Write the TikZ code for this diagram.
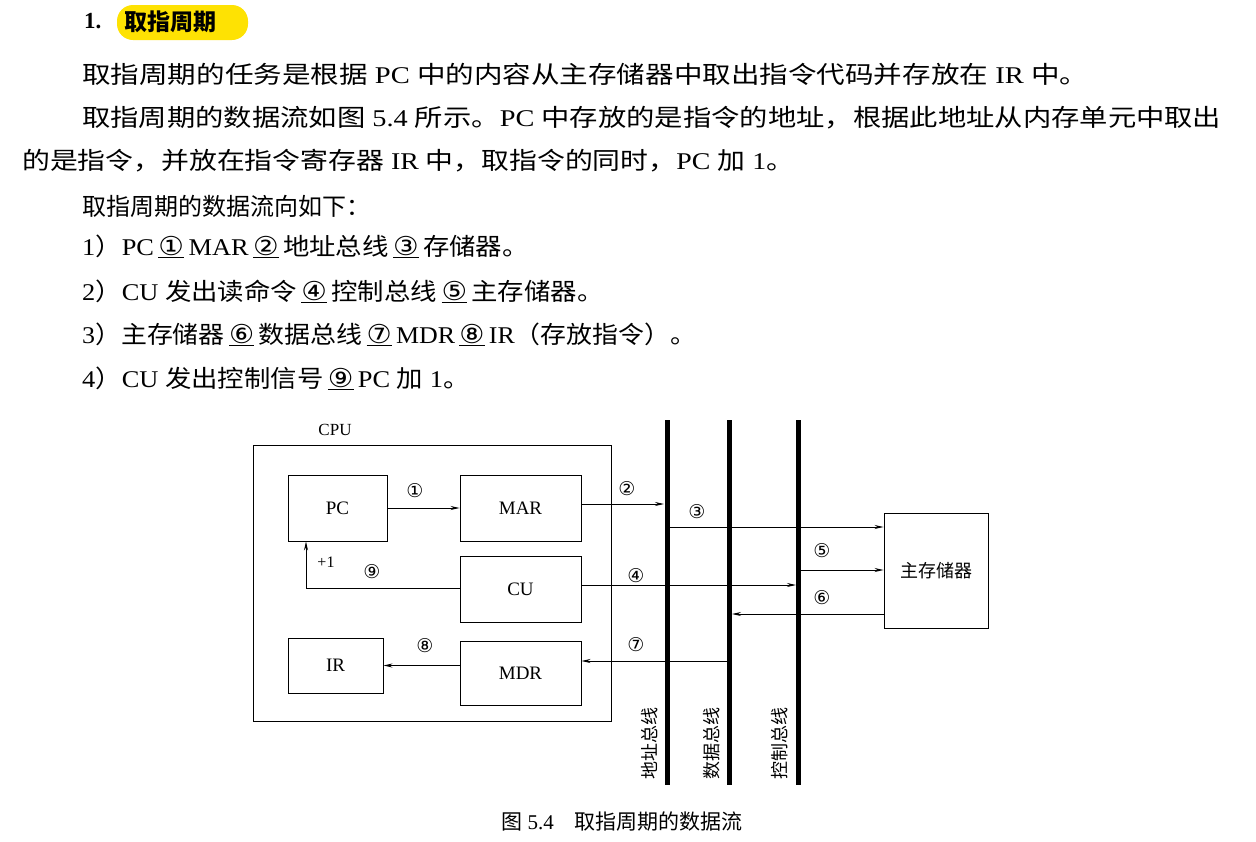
\documentclass[tikz,border=0pt]{standalone}
\usepackage{fontspec}
\usepackage{graphicx}
\setmainfont{Liberation Serif}
\newfontfamily\cjk{Noto Sans CJK SC}
\newfontfamily\sym{DejaVu Sans}
\newcommand{\zh}[1]{{\cjk #1}}
\newcommand{\cn}[1]{\underline{\sym\fontsize{26}{26}\selectfont #1}}
\usetikzlibrary{arrows.meta}
\begin{document}
\begin{tikzpicture}[x=1pt,y=-1pt,
  txt/.style={anchor=west,inner sep=0pt,font=\fontsize{24}{26}\selectfont},
  box/.style={draw,line width=0.9pt,minimum width=#1,inner sep=0pt,font=\fontsize{19}{20}\selectfont},
  bus/.style={line width=5pt},
  arr/.style={-{Stealth[length=9pt,width=4pt]},line width=0.9pt},
  num/.style={font=\sym\fontsize{19}{20}\selectfont,inner sep=1pt},
  blab/.style={rotate=90,anchor=west,inner sep=0pt,font=\cjk\fontsize{18}{19}\selectfont}]
\useasboundingbox (0,0) rectangle (1256,841);
% header
\node[txt,font=\bfseries\fontsize{23}{24}\selectfont] (h1) at (84,21) {1.};
\fill[yellow!85!orange] (117,5) [rounded corners=16pt] rectangle (248,40);
\node[txt,font=\cjk\bfseries\fontsize{23}{24}\selectfont] (h2) at (124,22) {取指周期};
% body
\node[txt] (l1) at (82,74) {\scalebox{1.19}[1]{\zh{取指周期的任务是根据} PC \zh{中的内容从主存储器中取出指令代码并存放在} IR \zh{中。}}};
\node[txt] (l2) at (82,118) {\scalebox{1.18}[1]{\zh{取指周期的数据流如图} 5.4 \zh{所示。}PC \zh{中存放的是指令的地址，根据此地址从内存单元中取出}}};
\node[txt] (l3) at (22,161) {\scalebox{1.16}[1]{\zh{的是指令，并放在指令寄存器} IR \zh{中，取指令的同时，}PC \zh{加} 1\zh{。}}};
\node[txt] (l4) at (82,206) {\zh{取指周期的数据流向如下：}};
\node[txt] (l5) at (82,246) {\scalebox{1.1}[1]{1\zh{）}PC\,\cn{①}\,MAR\,\cn{②}\,\zh{地址总线}\,\cn{③}\,\zh{存储器。}}};
\node[txt] (l6) at (82,291) {\scalebox{1.1}[1]{2\zh{）}CU \zh{发出读命令}\,\cn{④}\,\zh{控制总线}\,\cn{⑤}\,\zh{主存储器。}}};
\node[txt] (l7) at (82,334) {\scalebox{1.08}[1]{3\zh{）主存储器}\,\cn{⑥}\,\zh{数据总线}\,\cn{⑦}\,MDR\,\cn{⑧}\,IR\zh{（存放指令）。}}};
\node[txt] (l8) at (82,378) {\scalebox{1.1}[1]{4\zh{）}CU \zh{发出控制信号}\,\cn{⑨}\,PC \zh{加} 1\zh{。}}};
% diagram
\node[font=\fontsize{17}{18}\selectfont] (cpul) at (335,430) {CPU};
\draw[line width=0.9pt] (253,445) rectangle (611,721);
\node[box=99pt,minimum height=66pt] (pc) at (337.5,508) {PC};
\node[box=121pt,minimum height=66pt] (mar) at (520.5,508) {MAR};
\node[box=121pt,minimum height=66pt] (cu) at (520.5,589) {CU};
\node[box=95pt,minimum height=55pt] (ir) at (335.5,665.5) {IR};
\node[box=121pt,minimum height=64pt] (mdr) at (520.5,673) {MDR};
\node[box=104pt,minimum height=115pt,font=\cjk\fontsize{18}{19}\selectfont] (mem) at (936,570.5) {主存储器};
\coordinate (ab1) at (667,420); \coordinate (ab2) at (667,785);
\coordinate (db1) at (729,420); \coordinate (db2) at (729,785);
\coordinate (cb1) at (798,420); \coordinate (cb2) at (798,785);
\draw[bus] (ab1) -- (ab2); \draw[bus] (db1) -- (db2); \draw[bus] (cb1) -- (cb2);
\node[blab] (abl) at (650,780) {地址总线};
\node[blab] (dbl) at (712,780) {数据总线};
\node[blab] (cbl) at (780,780) {控制总线};
\draw[arr] (pc.east) -- (mar.west);
\node[num] (n1) at (415,491) {①};
\coordinate (a2) at (664,504);
\draw[arr] (mar.east |- a2) -- (a2);
\node[num] (n2) at (627,489) {②};
\coordinate (a3) at (670,527);
\draw[arr] (a3) -- (mem.west |- a3);
\node[num] (n3) at (697,512) {③};
\coordinate (a4) at (796,585);
\draw[arr] (cu.east |- a4) -- (a4);
\node[num] (n4) at (636,576) {④};
\coordinate (a5) at (800,570);
\draw[arr] (a5) -- (mem.west |- a5);
\node[num] (n5) at (822,551) {⑤};
\coordinate (a6) at (732,614);
\draw[arr] (mem.west |- a6) -- (a6);
\node[num] (n6) at (822,598) {⑥};
\coordinate (a7) at (729,661);
\draw[arr] (a7) -- (mdr.east |- a7);
\node[num] (n7) at (636,645) {⑦};
\draw[arr] (mdr.west |- ir.east) -- (ir.east);
\node[num] (n8) at (425,646) {⑧};
\coordinate (a9) at (306,588);
\draw[arr] (cu.west |- a9) -- (a9) -- (a9 |- pc.south);
\node[font=\fontsize{16}{17}\selectfont] (p1) at (326,562) {+1};
\node[num] (n9) at (372,572) {⑨};
\node[font=\fontsize{21}{22}\selectfont] (cap) at (622,822) {\zh{图} 5.4\quad\zh{取指周期的数据流}};
\end{tikzpicture}
\end{document}
